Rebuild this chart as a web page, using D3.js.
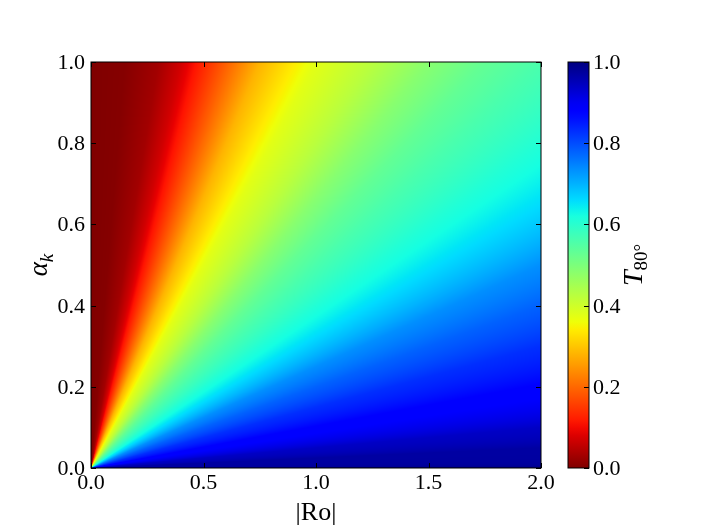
<!DOCTYPE html>
<html>
<head>
<meta charset="utf-8">
<script src="https://cdn.jsdelivr.net/npm/d3@7"></script>
<style>
  body { margin: 0; background: #fff; }
  #wrap { position: relative; width: 725px; height: 527px; }
  #wrap canvas, #wrap svg { position: absolute; left: 0; top: 0; }
  text { font-family: "Liberation Serif", "DejaVu Serif", serif; fill: #000; }
</style>
</head>
<body>
<div id="wrap"></div>
<script>
var ratioStops = [0, 0.15, 0.3, 0.4, 0.5, 0.75, 1.0, 1.25, 1.5, 1.75, 2, 2.5, 3.33, 4, 5, 6.67, 10, 20, 40, 1000];
var tStops     = [0, 0.005, 0.03, 0.07, 0.13, 0.28, 0.375, 0.425, 0.485, 0.53, 0.56, 0.61, 0.68, 0.735, 0.78, 0.83, 0.88, 0.94, 0.97, 1.0];

var roTicks = [0, 0.5, 1.0, 1.5, 2.0];
var alphaTicks = [0, 0.2, 0.4, 0.6, 0.8, 1.0];
var cbarTicks = [0, 0.2, 0.4, 0.6, 0.8, 1.0];

var width = 725, height = 527;
var plot = {left: 91, right: 541, top: 62, bottom: 468};
var cbar = {left: 568, right: 589};

var x = d3.scaleLinear().domain([0, 2]).range([plot.left, plot.right]);
var y = d3.scaleLinear().domain([0, 1]).range([plot.bottom, plot.top]);
var tOfRatio = d3.scaleLinear().domain(ratioStops).range(tStops).clamp(true);

// jet colormap, reversed for T
var red = d3.scaleLinear().domain([0, 0.35, 0.66, 0.89, 1]).range([0, 0, 1, 1, 0.5]).clamp(true);
var green = d3.scaleLinear().domain([0, 0.125, 0.375, 0.64, 0.91, 1]).range([0, 0, 1, 1, 0, 0]).clamp(true);
var blue = d3.scaleLinear().domain([0, 0.11, 0.34, 0.65, 1]).range([0.5, 1, 1, 0, 0]).clamp(true);
var jet = function(v) {
  return [Math.round(red(v) * 255), Math.round(green(v) * 255), Math.round(blue(v) * 255)];
};
var color = function(t) { return jet(1 - t); };

var wrap = d3.select('#wrap');

// heatmap
var pw = plot.right - plot.left, ph = plot.bottom - plot.top;
var canvas = wrap.append('canvas')
  .attr('width', pw).attr('height', ph)
  .style('left', plot.left + 'px').style('top', plot.top + 'px');
var ctx = canvas.node().getContext('2d');
var img = ctx.createImageData(pw, ph);
for (var j = 0; j < ph; j++) {
  var a = y.invert(plot.top + j + 0.5);
  for (var i = 0; i < pw; i++) {
    var ro = x.invert(plot.left + i + 0.5);
    var c = color(tOfRatio(ro / a));
    var k = (j * pw + i) * 4;
    img.data[k] = c[0]; img.data[k + 1] = c[1]; img.data[k + 2] = c[2]; img.data[k + 3] = 255;
  }
}
ctx.putImageData(img, 0, 0);

var svg = wrap.append('svg').attr('width', width).attr('height', height);

// frame
svg.append('rect')
  .attr('x', plot.left).attr('y', plot.top).attr('width', pw).attr('height', ph)
  .attr('fill', 'none').attr('stroke', '#000').attr('stroke-width', 1);

var tickLen = 5;
// x ticks (bottom and top, inward)
svg.selectAll('.xt').data(roTicks).enter().append('path')
  .attr('d', function(d) {
    var px = Math.round(x(d)) + 0.5;
    return 'M' + px + ',' + plot.bottom + 'v' + (-tickLen) + 'M' + px + ',' + plot.top + 'v' + tickLen;
  })
  .attr('stroke', '#000');
svg.selectAll('.xl').data(roTicks).enter().append('text')
  .attr('x', function(d) { return x(d); })
  .attr('y', plot.bottom + 21)
  .attr('text-anchor', 'middle')
  .style('font-size', '22px')
  .text(function(d) { return d.toFixed(1); });

// y ticks
svg.selectAll('.yt').data(alphaTicks).enter().append('path')
  .attr('d', function(d) {
    var py = Math.round(y(d)) + 0.5;
    return 'M' + plot.left + ',' + py + 'h' + tickLen + 'M' + plot.right + ',' + py + 'h' + (-tickLen);
  })
  .attr('stroke', '#000');
svg.selectAll('.yl').data(alphaTicks).enter().append('text')
  .attr('x', plot.left - 6)
  .attr('y', function(d) { return y(d) + 7; })
  .attr('text-anchor', 'end')
  .style('font-size', '22px')
  .text(function(d) { return d.toFixed(1); });

// axis labels
svg.append('text')
  .attr('x', (plot.left + plot.right) / 2).attr('y', 520)
  .attr('text-anchor', 'middle')
  .style('font-size', '26px')
  .text('|Ro|');

var ylab = svg.append('text')
  .attr('transform', 'translate(47,' + ((plot.top + plot.bottom) / 2) + ') rotate(-90)')
  .attr('text-anchor', 'middle')
  .style('font-size', '27px');
ylab.append('tspan').style('font-style', 'italic').text('α');
ylab.append('tspan').attr('dy', 6).style('font-size', '19px').style('font-style', 'italic').text('k');

// colorbar
var cy = d3.scaleLinear().domain([0, 1]).range([plot.bottom, plot.top]);
var grad = svg.append('defs').append('linearGradient')
  .attr('id', 'cb').attr('x1', 0).attr('y1', 1).attr('x2', 0).attr('y2', 0);
grad.selectAll('stop').data(d3.range(0, 1.0001, 0.02)).enter().append('stop')
  .attr('offset', function(d) { return d; })
  .attr('stop-color', function(d) { var c = color(d); return d3.rgb(c[0], c[1], c[2]).toString(); });
svg.append('rect')
  .attr('x', cbar.left).attr('y', plot.top)
  .attr('width', cbar.right - cbar.left).attr('height', ph)
  .attr('fill', 'url(#cb)').attr('stroke', '#000').attr('stroke-width', 1);
svg.selectAll('.ct').data(cbarTicks).enter().append('path')
  .attr('d', function(d) {
    var py = Math.round(cy(d)) + 0.5;
    return 'M' + cbar.right + ',' + py + 'h' + (-tickLen);
  })
  .attr('stroke', '#000');
svg.selectAll('.cl').data(cbarTicks).enter().append('text')
  .attr('x', cbar.right + 4)
  .attr('y', function(d) { return cy(d) + 7; })
  .style('font-size', '22px')
  .text(function(d) { return d.toFixed(1); });

var clab = svg.append('text')
  .attr('transform', 'translate(642,' + ((plot.top + plot.bottom) / 2) + ') rotate(-90)')
  .attr('text-anchor', 'middle')
  .style('font-size', '28px');
clab.append('tspan').style('font-style', 'italic').text('T');
clab.append('tspan').attr('dy', 5).style('font-size', '19px').text('80°');
</script>
</body>
</html>
